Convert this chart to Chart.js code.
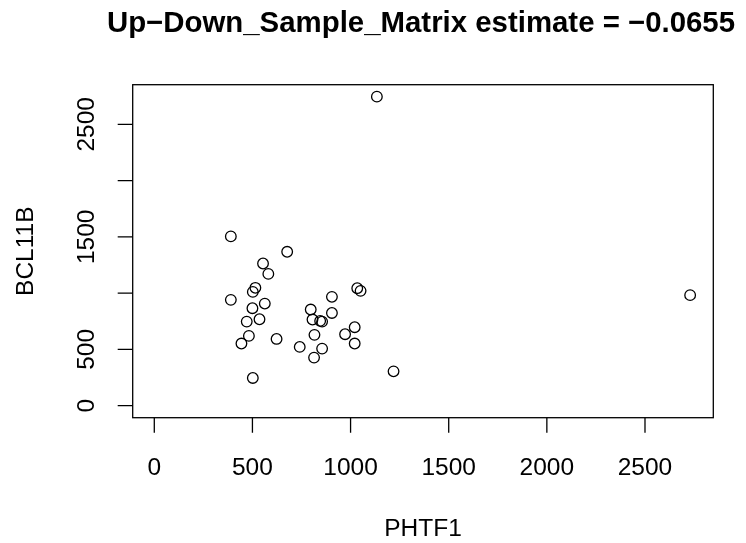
<!DOCTYPE html>
<html>
<head>
<meta charset="utf-8">
<script src="https://cdn.jsdelivr.net/npm/chart.js@4.4.0/dist/chart.umd.min.js"></script>
<style>
html,body{margin:0;padding:0;background:#fff;}
canvas{display:block;}
</style>
</head>
<body>
<canvas id="c" width="746" height="543"></canvas>
<script>
const titleText = "Up\u2212Down_Sample_Matrix estimate = \u22120.0655";
const xLabel = "PHTF1";
const yLabel = "BCL11B";
const xTicks = [0, 500, 1000, 1500, 2000, 2500];
const xTickLabels = ["0", "500", "1000", "1500", "2000", "2500"];
const yTicks = [0, 500, 1000, 1500, 2000, 2500];
const yTickLabels = ["0", "500", "", "1500", "", "2500"];
const phtf1 = [1134, 390, 677, 554, 581, 515, 502, 390, 563, 500, 536, 471, 482, 444, 502, 623, 741, 797, 806, 845, 855, 905, 905, 816, 855, 814, 972, 1021, 1021, 1034, 1051, 1219, 2730];
const bcl11b = [2746, 1504, 1367, 1263, 1171, 1047, 1011, 940, 907, 866, 768, 747, 620, 552, 246, 593, 522, 854, 765, 753, 747, 967, 824, 629, 507, 427, 635, 697, 552, 1044, 1020, 305, 982];

const points = phtf1.map((v, i) => ({x: v, y: bcl11b[i]}));
const FONT = '"Liberation Sans", Arial, Helvetica, sans-serif';

const rPlot = {
  id: 'rPlot',
  afterDraw(chart) {
    const ctx = chart.ctx;
    const a = chart.chartArea;
    const xs = chart.scales.x, ys = chart.scales.y;
    ctx.save();
    ctx.strokeStyle = '#000';
    ctx.fillStyle = '#000';
    ctx.lineWidth = 1.3;
    // box
    ctx.strokeRect(a.left, a.top, a.right - a.left, a.bottom - a.top);
    const tl = 15;
    // x ticks
    ctx.beginPath();
    xTicks.forEach(v => {
      const px = xs.getPixelForValue(v);
      ctx.moveTo(px, a.bottom);
      ctx.lineTo(px, a.bottom + tl);
    });
    yTicks.forEach(v => {
      const py = ys.getPixelForValue(v);
      ctx.moveTo(a.left, py);
      ctx.lineTo(a.left - tl, py);
    });
    ctx.stroke();
    // x tick labels
    ctx.font = '24.5px ' + FONT;
    ctx.textAlign = 'center';
    ctx.textBaseline = 'alphabetic';
    xTicks.forEach((v, i) => {
      ctx.fillText(xTickLabels[i], xs.getPixelForValue(v), 475);
    });
    // y tick labels rotated
    yTicks.forEach((v, i) => {
      if (!yTickLabels[i]) return;
      ctx.save();
      ctx.translate(94, ys.getPixelForValue(v));
      ctx.rotate(-Math.PI / 2);
      ctx.fillText(yTickLabels[i], 0, 0);
      ctx.restore();
    });
    // axis titles
    const cx = (a.left + a.right) / 2, cy = (a.top + a.bottom) / 2;
    ctx.fillText(xLabel, cx, 536);
    ctx.save();
    ctx.translate(33, cy);
    ctx.rotate(-Math.PI / 2);
    ctx.fillText(yLabel, 0, 0);
    ctx.restore();
    // main title
    ctx.font = 'bold 29.4px ' + FONT;
    ctx.fillText(titleText, cx - 2, 32);
    ctx.restore();
  }
};

new Chart(document.getElementById('c'), {
  type: 'scatter',
  data: {
    datasets: [{
      data: points,
      pointStyle: 'circle',
      pointRadius: 5.3,
      pointHoverRadius: 5.3,
      borderWidth: 1.3,
      borderColor: '#000',
      backgroundColor: 'rgba(0,0,0,0)'
    }]
  },
  options: {
    responsive: false,
    animation: false,
    devicePixelRatio: 1,
    events: [],
    layout: { padding: { left: 132.7, right: 32.7, top: 84.7, bottom: 125.3 } },
    plugins: { legend: { display: false }, tooltip: { enabled: false }, title: { display: false } },
    scales: {
      x: { type: 'linear', min: -110, max: 2848, display: false },
      y: { type: 'linear', min: -107, max: 2852, display: false }
    }
  },
  plugins: [rPlot]
});
</script>
</body>
</html>
